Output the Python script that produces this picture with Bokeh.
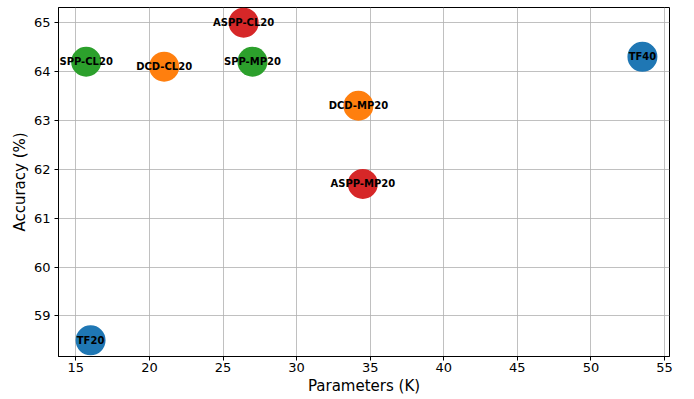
from bokeh.plotting import figure
from bokeh.models import ColumnDataSource, Range1d, FixedTicker
from bokeh.core.properties import value
from bokeh.embed import file_html
from bokeh.resources import INLINE

names = ["TF20", "TF40", "SPP-CL20", "DCD-CL20", "ASPP-CL20", "SPP-MP20", "DCD-MP20", "ASPP-MP20"]
params = [16.0, 53.5, 15.7, 21.0, 26.4, 27.0, 34.2, 34.5]
accuracy = [58.5, 64.3, 64.2, 64.1, 65.0, 64.2, 63.3, 61.7]
colors = ["#1f77b4", "#1f77b4", "#2ca02c", "#ff7f0e", "#d62728", "#2ca02c", "#ff7f0e", "#d62728"]
x_ticks = [15, 20, 25, 30, 35, 40, 45, 50, 55]
y_ticks = [59, 60, 61, 62, 63, 64, 65]

src = ColumnDataSource(dict(x=params, y=accuracy, name=names, color=colors))

p = figure(width=694, height=399, output_backend="svg", toolbar_location=None,
           x_range=Range1d(13.82, 55.34), y_range=Range1d(58.17, 65.31),
           min_border_left=58, min_border_right=25, min_border_top=7, min_border_bottom=43)

p.scatter("x", "y", source=src, size=30, fill_color="color", line_color=None)
p.text("x", "y", text="name", source=src, text_align="center", text_baseline="middle",
       text_font=value("DejaVu Sans"), text_font_style="bold", text_font_size="10px",
       text_color="black")

p.xaxis.ticker = FixedTicker(ticks=x_ticks)
p.yaxis.ticker = FixedTicker(ticks=y_ticks)
p.xaxis.axis_label = "Parameters (K)"
p.yaxis.axis_label = "Accuracy (%)"
for ax in (p.xaxis, p.yaxis):
    ax.axis_label_text_font = "DejaVu Sans"
    ax.axis_label_text_font_style = "normal"
    ax.axis_label_text_font_size = "15px"
    ax.axis_label_text_color = "black"
    ax.major_label_text_font = "DejaVu Sans"
    ax.major_label_text_font_size = "13px"
    ax.major_label_text_color = "black"
    ax.major_tick_out = 4
    ax.major_tick_in = 0
    ax.minor_tick_out = 0
    ax.minor_tick_in = 0
    ax.major_tick_line_color = "black"
    ax.axis_line_color = "black"
    ax.axis_label_standoff = 2
p.xaxis.major_label_standoff = 2
p.yaxis.major_label_standoff = 4

p.grid.grid_line_color = "#b0b0b0"
p.grid.grid_line_alpha = 0.8
p.grid.grid_line_width = 1
p.outline_line_color = "black"
p.outline_line_width = 1
p.outline_line_alpha = 1
p.background_fill_color = "white"
p.border_fill_color = "white"

open("out.html", "w").write(file_html(p, INLINE))
